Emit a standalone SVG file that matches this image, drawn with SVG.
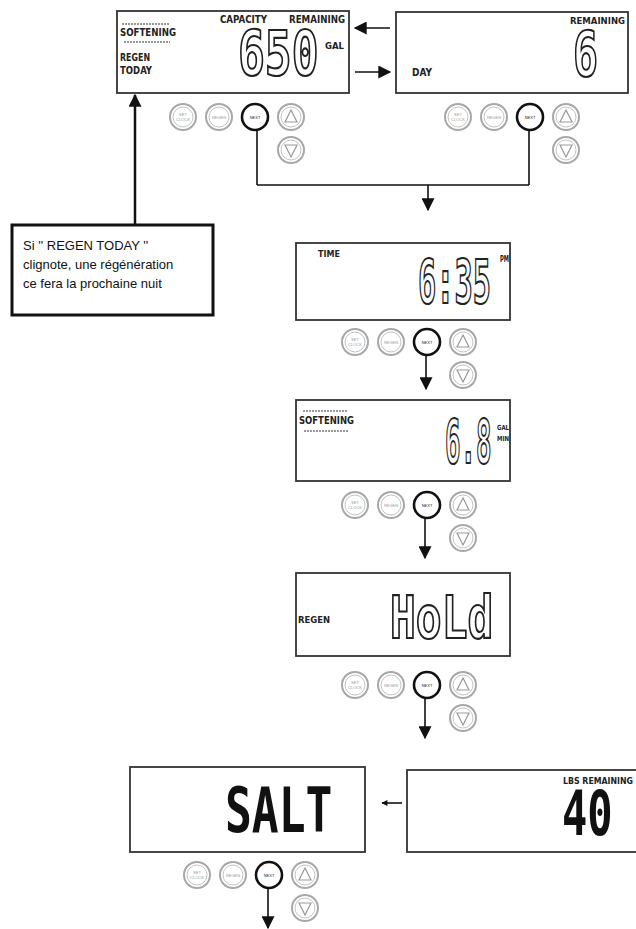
<svg xmlns="http://www.w3.org/2000/svg" xmlns:xlink="http://www.w3.org/1999/xlink" width="636" height="929" viewBox="0 0 636 929">
<style>
.panel{fill:#fff;stroke:#333;stroke-width:1.8}
.lcd{font-family:"DejaVu Sans Condensed","DejaVu Sans",sans-serif;font-weight:bold;fill:#222}
.big{font-family:"DejaVu Sans Mono",monospace;font-weight:bold;fill:#fff;stroke:#222;stroke-width:2.2}
.bigf{font-family:"DejaVu Sans Mono",monospace;font-weight:bold;fill:#111}
.ring{fill:#fff;stroke:#a8a8a8;stroke-width:2}
.inner{fill:none;stroke:#c4c4c4;stroke-width:1}
.next{fill:#fff;stroke:#111;stroke-width:2.6}
.tiny{font-family:"Liberation Sans",sans-serif;font-size:4px;fill:#999;text-anchor:middle}
.tri{fill:none;stroke:#999;stroke-width:1.2}
.conn{stroke:#111;stroke-width:1.6;fill:none}
.deco{stroke:#999;stroke-width:2;stroke-dasharray:2 1}
.note{font-family:"Liberation Sans",Arial,sans-serif;font-size:13px;fill:#111}
</style>
<defs>
<marker id="ah" viewBox="0 0 10 10" refX="9" refY="5" markerWidth="14" markerHeight="13" orient="auto" markerUnits="userSpaceOnUse">
<path d="M0,0 L10,5 L0,10 Z" fill="#111"/>
</marker>
<marker id="ahs" viewBox="0 0 10 10" refX="9" refY="5" markerWidth="8" markerHeight="6" orient="auto" markerUnits="userSpaceOnUse">
<path d="M0,0 L10,5 L0,10 Z" fill="#111"/>
</marker>
<g id="btns">
<circle class="ring" cx="0" cy="0" r="13"/><circle class="inner" cx="0" cy="0" r="10"/>
<text class="tiny" x="0" y="-1">SET</text><text class="tiny" x="0" y="4">CLOCK</text>
<circle class="ring" cx="36" cy="0" r="13"/><circle class="inner" cx="36" cy="0" r="10"/>
<text class="tiny" x="36" y="1.5">REGEN</text>
<circle class="next" cx="72" cy="0" r="13"/>
<text class="tiny" x="72" y="1.5" style="fill:#222">NEXT</text>
<circle class="ring" cx="108" cy="0" r="13"/><circle class="inner" cx="108" cy="0" r="10"/>
<path class="tri" d="M108,-7 L114,5 L102,5 Z"/>
<circle class="ring" cx="108" cy="33" r="13"/><circle class="inner" cx="108" cy="33" r="10"/>
<path class="tri" d="M108,40 L114,28 L102,28 Z"/>
</g>
</defs>

<g id="connectors">
<path class="conn" d="M257,130 V185 M529,130 V185 M257,185 H529"/>
<line class="conn" x1="428" y1="185" x2="428" y2="210" marker-end="url(#ah)"/>
<line x1="135" y1="225" x2="135" y2="95" stroke="#111" stroke-width="2.5" marker-end="url(#ah)"/>
<line class="conn" x1="390" y1="28" x2="355" y2="28" marker-end="url(#ah)"/>
<line class="conn" x1="355" y1="72" x2="390" y2="72" marker-end="url(#ah)"/>
<line class="conn" x1="426" y1="355" x2="426" y2="389" marker-end="url(#ah)"/>
<line class="conn" x1="425" y1="518" x2="425" y2="558" marker-end="url(#ah)"/>
<line class="conn" x1="425" y1="698" x2="425" y2="738" marker-end="url(#ah)"/>
<line x1="402" y1="803" x2="382" y2="803" stroke="#111" stroke-width="1.6" marker-end="url(#ahs)"/>
<line class="conn" x1="268" y1="888" x2="268" y2="928" marker-end="url(#ah)"/>
</g>

<g id="panel-capacity">
<rect class="panel" x="117" y="11" width="232" height="82"/>
<line class="deco" x1="122" y1="24" x2="170" y2="24"/>
<text class="lcd" x="120" y="36" font-size="11" textLength="56" lengthAdjust="spacingAndGlyphs">SOFTENING</text>
<line class="deco" x1="124" y1="42" x2="170" y2="42"/>
<text class="lcd" x="120" y="61" font-size="10" textLength="30" lengthAdjust="spacingAndGlyphs">REGEN</text>
<text class="lcd" x="120" y="74" font-size="10" textLength="32" lengthAdjust="spacingAndGlyphs">TODAY</text>
<text class="lcd" x="220" y="23" font-size="10" textLength="47" lengthAdjust="spacingAndGlyphs">CAPACITY</text>
<text class="lcd" x="289" y="23" font-size="10" textLength="56" lengthAdjust="spacingAndGlyphs">REMAINING</text>
<text class="big" transform="translate(238,75) scale(0.72,1)" font-size="62">650</text>
<text class="lcd" x="325" y="49" font-size="9" textLength="19" lengthAdjust="spacingAndGlyphs">GAL</text>
<use href="#btns" x="183" y="117"/>
</g>

<g id="panel-days">
<rect class="panel" x="396" y="12" width="232" height="81"/>
<text class="lcd" x="570" y="24" font-size="9" textLength="55" lengthAdjust="spacingAndGlyphs">REMAINING</text>
<text class="big" transform="translate(573,76) scale(0.67,1)" font-size="62">6</text>
<text class="lcd" x="412" y="76" font-size="10" textLength="20" lengthAdjust="spacingAndGlyphs">DAY</text>
<use href="#btns" x="458" y="117"/>
</g>

<g id="note">
<rect x="12" y="225" width="201" height="90" fill="#fff" stroke="#111" stroke-width="3"/>
<text class="note" x="23" y="250">Si '' REGEN TODAY ''</text>
<text class="note" x="23" y="269">clignote, une régénération</text>
<text class="note" x="23" y="288">ce fera la prochaine nuit</text>
</g>

<g id="panel-time">
<rect class="panel" x="296" y="243" width="214" height="77"/>
<text class="lcd" x="318" y="257" font-size="8" textLength="22" lengthAdjust="spacingAndGlyphs">TIME</text>
<text class="big" transform="translate(418,303) scale(0.505,1)" font-size="60">6:35</text>
<text class="lcd" x="500" y="262" font-size="8" textLength="9" lengthAdjust="spacingAndGlyphs">PM</text>
<use href="#btns" x="355" y="342"/>
</g>

<g id="panel-flow">
<rect class="panel" x="296" y="400" width="214" height="81"/>
<line class="deco" x1="303" y1="411" x2="348" y2="411"/>
<text class="lcd" x="299" y="424" font-size="10" textLength="55" lengthAdjust="spacingAndGlyphs">SOFTENING</text>
<line class="deco" x1="304" y1="431" x2="348" y2="431"/>
<text class="big" transform="translate(445,463) scale(0.43,1)" font-size="60">6.8</text>
<text class="lcd" x="497" y="430" font-size="7" textLength="12" lengthAdjust="spacingAndGlyphs">GAL</text>
<text class="lcd" x="497" y="441" font-size="7" textLength="12" lengthAdjust="spacingAndGlyphs">MIN</text>
<use href="#btns" x="355" y="505"/>
</g>

<g id="panel-regen">
<rect class="panel" x="296" y="573" width="214" height="83"/>
<text class="lcd" x="298" y="623" font-size="8" textLength="32" lengthAdjust="spacingAndGlyphs">REGEN</text>
<text class="big" transform="translate(390,638) scale(0.74,1)" font-size="58">HoLd</text>
<use href="#btns" x="355" y="685"/>
</g>

<g id="panel-salt">
<rect class="panel" x="130" y="767" width="235" height="85"/>
<text class="bigf" transform="translate(225,832) scale(0.72,1)" font-size="62">SALT</text>
<use href="#btns" x="197" y="875"/>
</g>

<g id="panel-lbs">
<rect class="panel" x="407" y="770" width="240" height="82"/>
<text class="lcd" x="563" y="784" font-size="8" textLength="70" lengthAdjust="spacingAndGlyphs">LBS REMAINING</text>
<text class="bigf" transform="translate(562,835) scale(0.68,1)" font-size="62">40</text>
</g>
</svg>
